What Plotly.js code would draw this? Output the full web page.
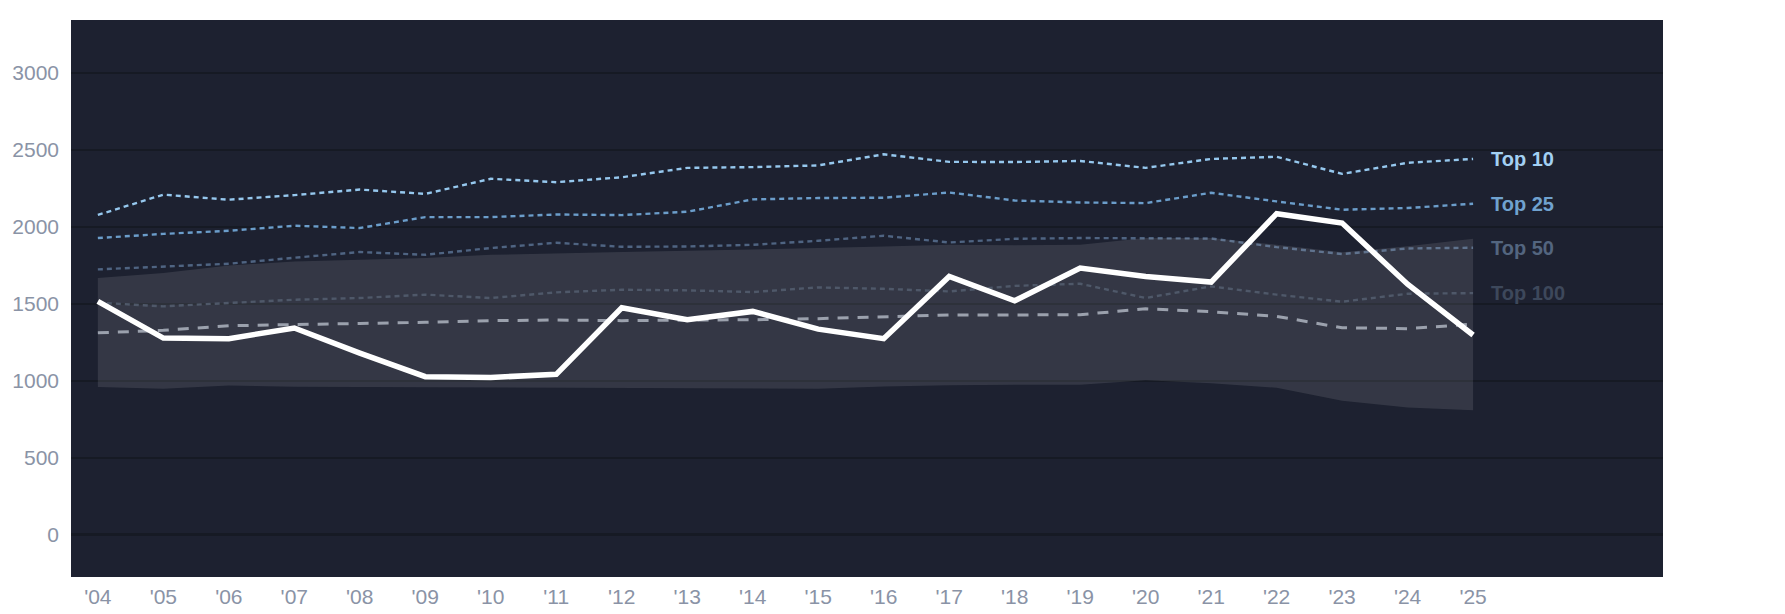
<!DOCTYPE html>
<html>
<head>
<meta charset="utf-8">
<script src="https://cdn.plot.ly/plotly-3.0.1.min.js"></script>
<style>
  html, body { margin: 0; padding: 0; background: #ffffff; }
  #chart { width: 1785px; height: 614px; }
</style>
</head>
<body>
<div id="chart"></div>
<script>
var years = [2004, 2005, 2006, 2007, 2008, 2009, 2010, 2011, 2012, 2013, 2014,
             2015, 2016, 2017, 2018, 2019, 2020, 2021, 2022, 2023, 2024, 2025]
var yearLabels = ["'04", "'05", "'06", "'07", "'08", "'09", "'10", "'11", "'12", "'13", "'14",
                  "'15", "'16", "'17", "'18", "'19", "'20", "'21", "'22", "'23", "'24", "'25"]

var top10 = [2078, 2210, 2177, 2207, 2243, 2215, 2313, 2291, 2323, 2384, 2389,
             2400, 2472, 2423, 2422, 2429, 2384, 2442, 2456, 2345, 2417, 2442]
var top25 = [1928, 1955, 1975, 2008, 1993, 2064, 2064, 2081, 2077, 2099, 2179,
             2188, 2190, 2224, 2172, 2159, 2155, 2222, 2166, 2112, 2123, 2151]
var top50 = [1724, 1744, 1761, 1800, 1837, 1819, 1863, 1897, 1871, 1873, 1884,
             1910, 1943, 1899, 1923, 1928, 1925, 1925, 1869, 1824, 1860, 1865]
var top100 = [1508, 1484, 1506, 1527, 1538, 1560, 1538, 1575, 1592, 1588, 1577,
              1607, 1598, 1581, 1617, 1631, 1538, 1614, 1560, 1514, 1566, 1570]
var median = [1312, 1328, 1358, 1367, 1373, 1380, 1391, 1395, 1391, 1395, 1397,
              1404, 1417, 1428, 1428, 1430, 1468, 1449, 1419, 1345, 1339, 1368]
var bandHigh = [1668, 1700, 1750, 1776, 1787, 1798, 1819, 1830, 1837, 1845, 1852,
                1863, 1873, 1884, 1881, 1884, 1928, 1928, 1884, 1836, 1875, 1923]
var bandLow = [960, 948, 970, 962, 960, 958, 956, 955, 953, 952, 950,
               948, 963, 972, 975, 975, 1003, 985, 955, 870, 826, 808]
var player = [1516, 1278, 1274, 1343, 1180, 1027, 1022, 1042, 1475, 1397, 1451,
              1336, 1274, 1678, 1520, 1733, 1678, 1642, 2086, 2025, 1628, 1298]

var tierNames = ["Top 10", "Top 25", "Top 50", "Top 100"]
var tierColors = ["#96c8ee", "#6b9dca", "#4f6482", "#3b4659"]
var tierLabelColors = ["#a3d0f3", "#70a2cf", "#53657f", "#3d485b"]

function dotted(y, color, name) {
    return {
        x: years, y: y, type: "scatter", mode: "lines", name: name,
        line: {color: color, width: 2.4, dash: "5px,4px"},
        hoverinfo: "skip"
    }
}

var traces = [
    dotted(top100, tierColors[3], tierNames[3]),
    dotted(top50, tierColors[2], tierNames[2]),
    dotted(top25, tierColors[1], tierNames[1]),
    dotted(top10, tierColors[0], tierNames[0]),
    {
        x: years, y: bandLow, type: "scatter", mode: "lines",
        line: {width: 0, color: "rgba(0,0,0,0)"}, hoverinfo: "skip"
    },
    {
        x: years, y: bandHigh, type: "scatter", mode: "lines", fill: "tonexty",
        fillcolor: "rgba(255,255,255,0.1)",
        line: {width: 0, color: "rgba(0,0,0,0)"}, hoverinfo: "skip"
    },
    {
        x: years, y: median, type: "scatter", mode: "lines",
        line: {color: "#9ba1ad", width: 3, dash: "11px,9px"}, hoverinfo: "skip"
    },
    {
        x: years, y: player, type: "scatter", mode: "lines",
        line: {color: "#ffffff", width: 5.5}
    }
]

var tierLast = [top10, top25, top50, top100]
var annotations = []
for (var i = 0; i < tierNames.length; i++) {
    annotations.push({
        x: years[years.length - 1],
        y: tierLast[i][tierLast[i].length - 1],
        xref: "x", yref: "y",
        text: "<b>" + tierNames[i] + "</b>",
        showarrow: false,
        xanchor: "left", yanchor: "middle",
        xshift: 16,
        font: {family: "Liberation Sans, Arial, sans-serif", size: 20, color: tierLabelColors[i]}
    })
}

var layout = {
    width: 1785, height: 614,
    margin: {l: 71, r: 122, t: 20, b: 37},
    paper_bgcolor: "#ffffff",
    plot_bgcolor: "#1d2130",
    showlegend: false,
    font: {family: "Liberation Sans, Arial, sans-serif", size: 21, color: "#8a93a6"},
    xaxis: {
        range: [2003.59, 2027.9],
        tickmode: "array", tickvals: years, ticktext: yearLabels,
        showgrid: false, zeroline: false, showline: false, ticks: "",
        ticklabelstandoff: 5,
        tickfont: {size: 21, color: "#8a93a6"}
    },
    yaxis: {
        range: [-275, 3345],
        tickmode: "array", tickvals: [0, 500, 1000, 1500, 2000, 2500, 3000],
        showgrid: true, gridcolor: "#161a24", gridwidth: 2.5,
        zeroline: false, showline: false, ticks: "",
        ticklabelstandoff: 11,
        tickfont: {size: 21, color: "#8a93a6"}
    },
    annotations: annotations
}

Plotly.newPlot("chart", traces, layout, {displayModeBar: false, staticPlot: true})
</script>
</body>
</html>
